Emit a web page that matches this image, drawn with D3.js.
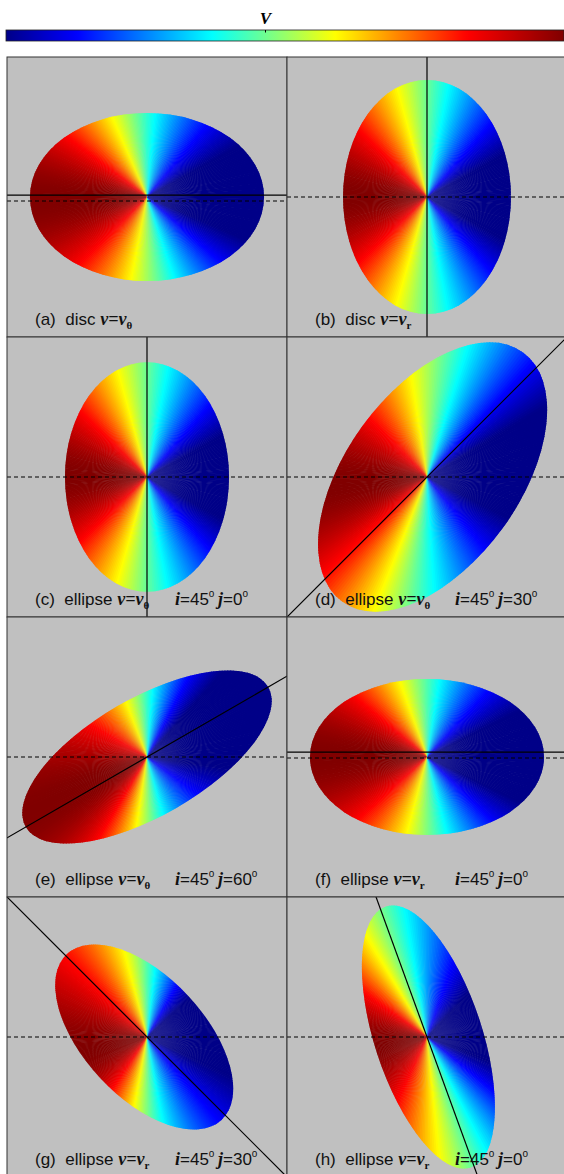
<!DOCTYPE html>
<html>
<head>
<meta charset="utf-8">
<script src="https://cdn.jsdelivr.net/npm/d3@7"></script>
<style>
  body { margin: 0; background: #fff; }
</style>
</head>
<body>
<svg id="fig"></svg>
<script>
const W = 564, H = 1174;

// colour bar: stop position along the bar and its colour
const cbPos = [0, 0.127, 0.369, 0.59, 0.826, 1];
const cbCol = ["#000088", "#0000ff", "#00ffff", "#ffff00", "#ff0000", "#800000"];
const vRange = [-0.85, 1];

// panels
const panelTags = ["a", "b", "c", "d", "e", "f", "g", "h"];
const shapeKind = ["disc", "disc", "ellipse", "ellipse", "ellipse", "ellipse", "ellipse", "ellipse"];
const velSub = ["θ", "r", "θ", "θ", "θ", "r", "r", "r"];
const inclDeg = [null, null, 45, 45, 45, 45, 45, 45];
const jDeg = [null, null, 0, 30, 60, 0, 30, 0];

// outline of the velocity map, in panel units (half panel = 1)
const semiA = [0.836, 0.6, 0.586, 1.1, 1.0, 0.836, 0.81, 0.98];
const semiB = [0.6, 0.836, 0.82, 0.62, 0.42, 0.557, 0.43, 0.385];
const tiltDeg = [0, 0, 0, 54, 30, 0, -47, -72];
const centreDX = [0, 0, 0, 0.04, 0, 0, -0.02, 0.01];
const centreDY = [0, 0, 0, 0, 0, 0, 0, 0];

// velocity pattern: direction of max (red), zero-velocity direction, spread
const redDeg = [182, 180, 180, 185, 205, 180, 192, 190];
const zeroDeg = [97, 90, 90, 83, 95, 93, 92, 109];
const spread = [0.8, 0.9, 0.9, 0.9, 0.9, 0.8, 1.1, 1.1];

// solid axis line angle and shift, dashed horizontal shift
const solidDeg = [0, 90, 90, 45, 30, 0, -45, -70];
const solidShift = [0.014, 0, 0, 0, 0, 0.035, 0, 0];
const dashShift = [-0.029, 0, 0, 0, 0, -0.007, 0, 0];

const colX = [7, 287];
const rowY = [57, 337, 617, 897];
const PS = 280;

const svg = d3.select("#fig").attr("width", W).attr("height", H);
svg.append("rect").attr("width", W).attr("height", H).attr("fill", "#fff");
const defs = svg.append("defs");

const colour = d3.scaleLinear().domain(cbPos).range(cbCol)
  .interpolate(d3.interpolateRgb).clamp(true);
const vToPos = d3.scaleLinear().domain(vRange).range([0, 1]).clamp(true);

// ---- colour bar ----
const cbX = d3.scaleLinear().domain([0, 1]).range([6, 564]);
const grad = defs.append("linearGradient").attr("id", "cbgrad");
grad.selectAll("stop")
  .data(d3.range(0, 1.0001, 0.01))
  .join("stop")
  .attr("offset", (d) => d)
  .attr("stop-color", (d) => colour(d));
svg.append("rect")
  .attr("x", cbX(0)).attr("y", 30)
  .attr("width", cbX(1) - cbX(0)).attr("height", 11)
  .attr("fill", "url(#cbgrad)")
  .attr("stroke", "#222").attr("stroke-width", 0.8);
svg.append("line")
  .attr("x1", 265.5).attr("x2", 265.5).attr("y1", 30).attr("y2", 32.5)
  .attr("stroke", "#000").attr("stroke-width", 1);
svg.append("text")
  .attr("x", 265.5).attr("y", 23.5)
  .attr("text-anchor", "middle")
  .attr("font-family", "Liberation Serif, Times New Roman, serif")
  .attr("font-weight", "bold").attr("font-style", "italic")
  .attr("font-size", 17)
  .text("V");

// line-of-sight velocity for a screen direction psi (math angle, y up)
function losVelocity(psi, i) {
  const m = redDeg[i] * Math.PI / 180, z = zeroDeg[i] * Math.PI / 180;
  const bx = -Math.cos(m), by = -Math.sin(m);
  const zx = Math.cos(z) * spread[i], zy = Math.sin(z) * spread[i];
  const ux = Math.cos(psi), uy = Math.sin(psi);
  const det = bx * zy - by * zx;
  const a = (ux * zy - uy * zx) / det;
  const c = (bx * uy - by * ux) / det;
  return -a / Math.hypot(a, c);
}

const N = 360;
const arc = d3.arc().innerRadius(0).outerRadius(260);
const sx = d3.scaleLinear().domain([-1, 1]).range([0, PS]);
const sy = d3.scaleLinear().domain([-1, 1]).range([PS, 0]);
const serif = "Liberation Serif, Times New Roman, serif";
const sans = "Liberation Sans, Arial, sans-serif";

panelTags.forEach((tag, i) => {
  const x0 = colX[i % 2], y0 = rowY[Math.floor(i / 2)];
  const g = svg.append("g").attr("transform", `translate(${x0},${y0})`);

  g.append("rect").attr("width", PS).attr("height", PS).attr("fill", "#c0c0c0");

  // ellipse clip for the map
  const ecx = sx(centreDX[i]), ecy = sy(centreDY[i]);
  defs.append("clipPath").attr("id", `ell${i}`)
    .append("ellipse")
    .attr("cx", ecx).attr("cy", ecy)
    .attr("rx", sx(semiA[i]) - sx(0)).attr("ry", sx(semiB[i]) - sx(0))
    .attr("transform", `rotate(${-tiltDeg[i]} ${ecx} ${ecy})`);

  const step = 2 * Math.PI / N;
  g.append("g").attr("clip-path", `url(#ell${i})`)
    .append("g").attr("transform", `translate(${sx(0)},${sy(0)})`)
    .selectAll("path")
    .data(d3.range(N))
    .join("path")
    .attr("d", (k) => {
      const psi0 = k * step, psi1 = (k + 1) * step;
      // d3.arc angles run clockwise from 12 o'clock
      return arc({ startAngle: Math.PI / 2 - psi1 - 0.004, endAngle: Math.PI / 2 - psi0 + 0.004 });
    })
    .attr("fill", (k) => colour(vToPos(losVelocity((k + 0.5) * step, i))));

  // axis lines, clipped to the panel
  defs.append("clipPath").attr("id", `pan${i}`)
    .append("rect").attr("width", PS).attr("height", PS);
  const lines = g.append("g").attr("clip-path", `url(#pan${i})`);

  const th = solidDeg[i] * Math.PI / 180;
  const nx = -Math.sin(th) * solidShift[i], ny = Math.cos(th) * solidShift[i];
  lines.append("line")
    .attr("x1", sx(nx - 2 * Math.cos(th))).attr("y1", sy(ny - 2 * Math.sin(th)))
    .attr("x2", sx(nx + 2 * Math.cos(th))).attr("y2", sy(ny + 2 * Math.sin(th)))
    .attr("stroke", "#000").attr("stroke-width", 1.2);

  lines.append("line")
    .attr("x1", sx(-1)).attr("x2", sx(1))
    .attr("y1", sy(dashShift[i])).attr("y2", sy(dashShift[i]))
    .attr("stroke", "#000").attr("stroke-width", 1.1)
    .attr("stroke-dasharray", "4,3");

  g.append("rect").attr("width", PS).attr("height", PS)
    .attr("fill", "none").attr("stroke", "#333").attr("stroke-width", 1);

  // label
  const lab = g.append("text").attr("x", 28).attr("y", 268)
    .attr("font-family", sans).attr("font-size", 17).attr("fill", "#111");
  lab.append("tspan").text(`(${tag})\u00a0\u00a0${shapeKind[i]}\u00a0`);
  lab.append("tspan").attr("font-family", serif).attr("font-weight", "bold")
    .attr("font-style", "italic").attr("font-size", 18).text("v=v");
  lab.append("tspan").attr("font-family", serif).attr("font-weight", "bold")
    .attr("font-size", 11).attr("dy", 4).text(velSub[i]);

  if (inclDeg[i] !== null) {
    const angText = (x, sym, val) => {
      const t = g.append("text").attr("x", x).attr("y", 268)
        .attr("font-family", sans).attr("font-size", 17).attr("fill", "#111");
      t.append("tspan").attr("font-family", serif).attr("font-weight", "bold")
        .attr("font-style", "italic").attr("font-size", 18).text(sym);
      t.append("tspan").text(`=${val}`);
      t.append("tspan").attr("font-size", 10).attr("dy", -8).text("o");
    };
    angText(168, "i", inclDeg[i]);
    angText(211, "j", jDeg[i]);
  }
});
</script>
</body>
</html>
